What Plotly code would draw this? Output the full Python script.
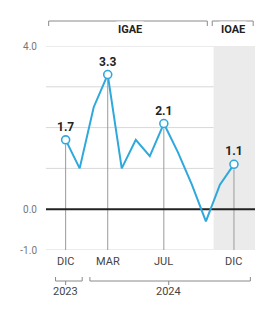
import plotly.graph_objects as go

months = ["DIC 2023", "ENE", "FEB", "MAR", "ABR", "MAY", "JUN", "JUL", "AGO", "SEP", "OCT", "NOV", "DIC 2024"]
values = [1.7, 1.0, 2.5, 3.3, 1.0, 1.7, 1.3, 2.1, 1.4, 0.6, -0.3, 0.6, 1.1]
highlight_idx = [0, 3, 7, 12]
highlight_labels = ["1.7", "3.3", "2.1", "1.1"]
tick_labels = ["DIC", "MAR", "JUL", "DIC"]
year_labels = ["2023", "2024"]
group_labels = ["IGAE", "IOAE"]
ytick_vals = [-1, 0, 1, 2, 3, 4]
ytick_text = ["-1.0", "0.0", "", "", "", "4.0"]

x = list(range(len(values)))
BLUE = "#2fa8dc"
FONT = "Roboto"

fig = go.Figure()

fig.add_trace(go.Scatter(x=x, y=values, mode="lines",
                         line=dict(color=BLUE, width=2), hoverinfo="skip"))
fig.add_trace(go.Scatter(
    x=[x[i] for i in highlight_idx], y=[values[i] for i in highlight_idx],
    mode="markers+text", text=highlight_labels, textposition="top center",
    textfont=dict(family=FONT, size=12, color="#222"),
    texttemplate="<b>%{text}</b>",
    marker=dict(size=8, color="white", line=dict(color=BLUE, width=1.6)),
    hoverinfo="skip"))

shapes = []
# shaded IOAE region
shapes.append(dict(type="rect", xref="x", yref="y", x0=10.55, x1=13.5, y0=-1, y1=4,
                   fillcolor="#ebebeb", line=dict(width=0), layer="below"))
# horizontal gridlines (from the tick values), in data coordinates across the x range
for v in ytick_vals:
    if v == 0:
        continue
    shapes.append(dict(type="line", xref="x", yref="y", x0=-1.4, x1=10.55, y0=v, y1=v,
                       line=dict(color="#d8d8d8", width=1), layer="below"))
# drop lines
for i in highlight_idx:
    shapes.append(dict(type="line", xref="x", yref="y", x0=x[i], x1=x[i],
                       y0=-1, y1=values[i] - 0.12, line=dict(color="#9a9a9a", width=1),
                       layer="below"))
# zero line
shapes.append(dict(type="line", xref="x", yref="y", x0=-1.4, x1=13.5, y0=0, y1=0,
                   line=dict(color="#222222", width=2), layer="below"))

def py(p):
    return (250 - p) / 204.0

GRAY = "#8a8a8a"
def bottom_bracket(xa, xb, xc):
    yb = py(281)
    shapes.append(dict(type="line", xref="x", yref="paper", x0=xa, x1=xb, y0=yb, y1=yb,
                       line=dict(color=GRAY, width=1)))
    for xe in (xa, xb):
        shapes.append(dict(type="line", xref="x", yref="paper", x0=xe, x1=xe, y0=yb, y1=py(277),
                           line=dict(color=GRAY, width=1)))
    shapes.append(dict(type="line", xref="x", yref="paper", x0=xc, x1=xc, y0=yb, y1=py(285),
                       line=dict(color=GRAY, width=1)))

bottom_bracket(-0.72, 1.18, 0.0)
bottom_bracket(1.73, 13.17, 7.35)

def top_bracket(xa, xb):
    yt = py(21)
    shapes.append(dict(type="line", xref="x", yref="paper", x0=xa, x1=xb, y0=yt, y1=yt,
                       line=dict(color=GRAY, width=1)))
    for xe in (xa, xb):
        shapes.append(dict(type="line", xref="x", yref="paper", x0=xe, x1=xe, y0=yt, y1=py(26),
                           line=dict(color=GRAY, width=1)))

top_bracket(-1.21, 10.1)
top_bracket(10.45, 13.37)

annotations = []
for i, lab in zip(highlight_idx, tick_labels):
    annotations.append(dict(x=x[i], y=py(270), xref="x", yref="paper", text=lab,
                            showarrow=False, font=dict(family=FONT, size=11, color="#444")))
for xc, lab in zip([0.0, 7.35], year_labels):
    annotations.append(dict(x=xc, y=py(300), xref="x", yref="paper", text=lab,
                            showarrow=False, font=dict(family=FONT, size=11, color="#444")))
for xc, lab in zip([4.6, 11.9], group_labels):
    annotations.append(dict(x=xc, y=py(21), xref="x", yref="paper", text="<b>" + lab + "</b>",
                            showarrow=False, bgcolor="white", borderpad=1,
                            font=dict(family=FONT, size=11, color="#222")))

fig.update_layout(
    width=262, height=303,
    margin=dict(l=29, r=15, t=38, b=61),
    paper_bgcolor="white", plot_bgcolor="rgba(0,0,0,0)",
    showlegend=False,
    shapes=shapes, annotations=annotations,
    xaxis=dict(range=[-1.4, 13.5], showgrid=False, zeroline=False, showticklabels=False,
               showline=False, fixedrange=True),
    yaxis=dict(range=[-1, 4], tickvals=ytick_vals, ticktext=ytick_text,
               showgrid=False, zeroline=False,
               tickfont=dict(family=FONT, size=10, color="#777"),
               ticks="outside", ticklen=6, tickcolor="rgba(0,0,0,0)", fixedrange=True),
)

fig.write_html("out.html", config={"displayModeBar": False})
